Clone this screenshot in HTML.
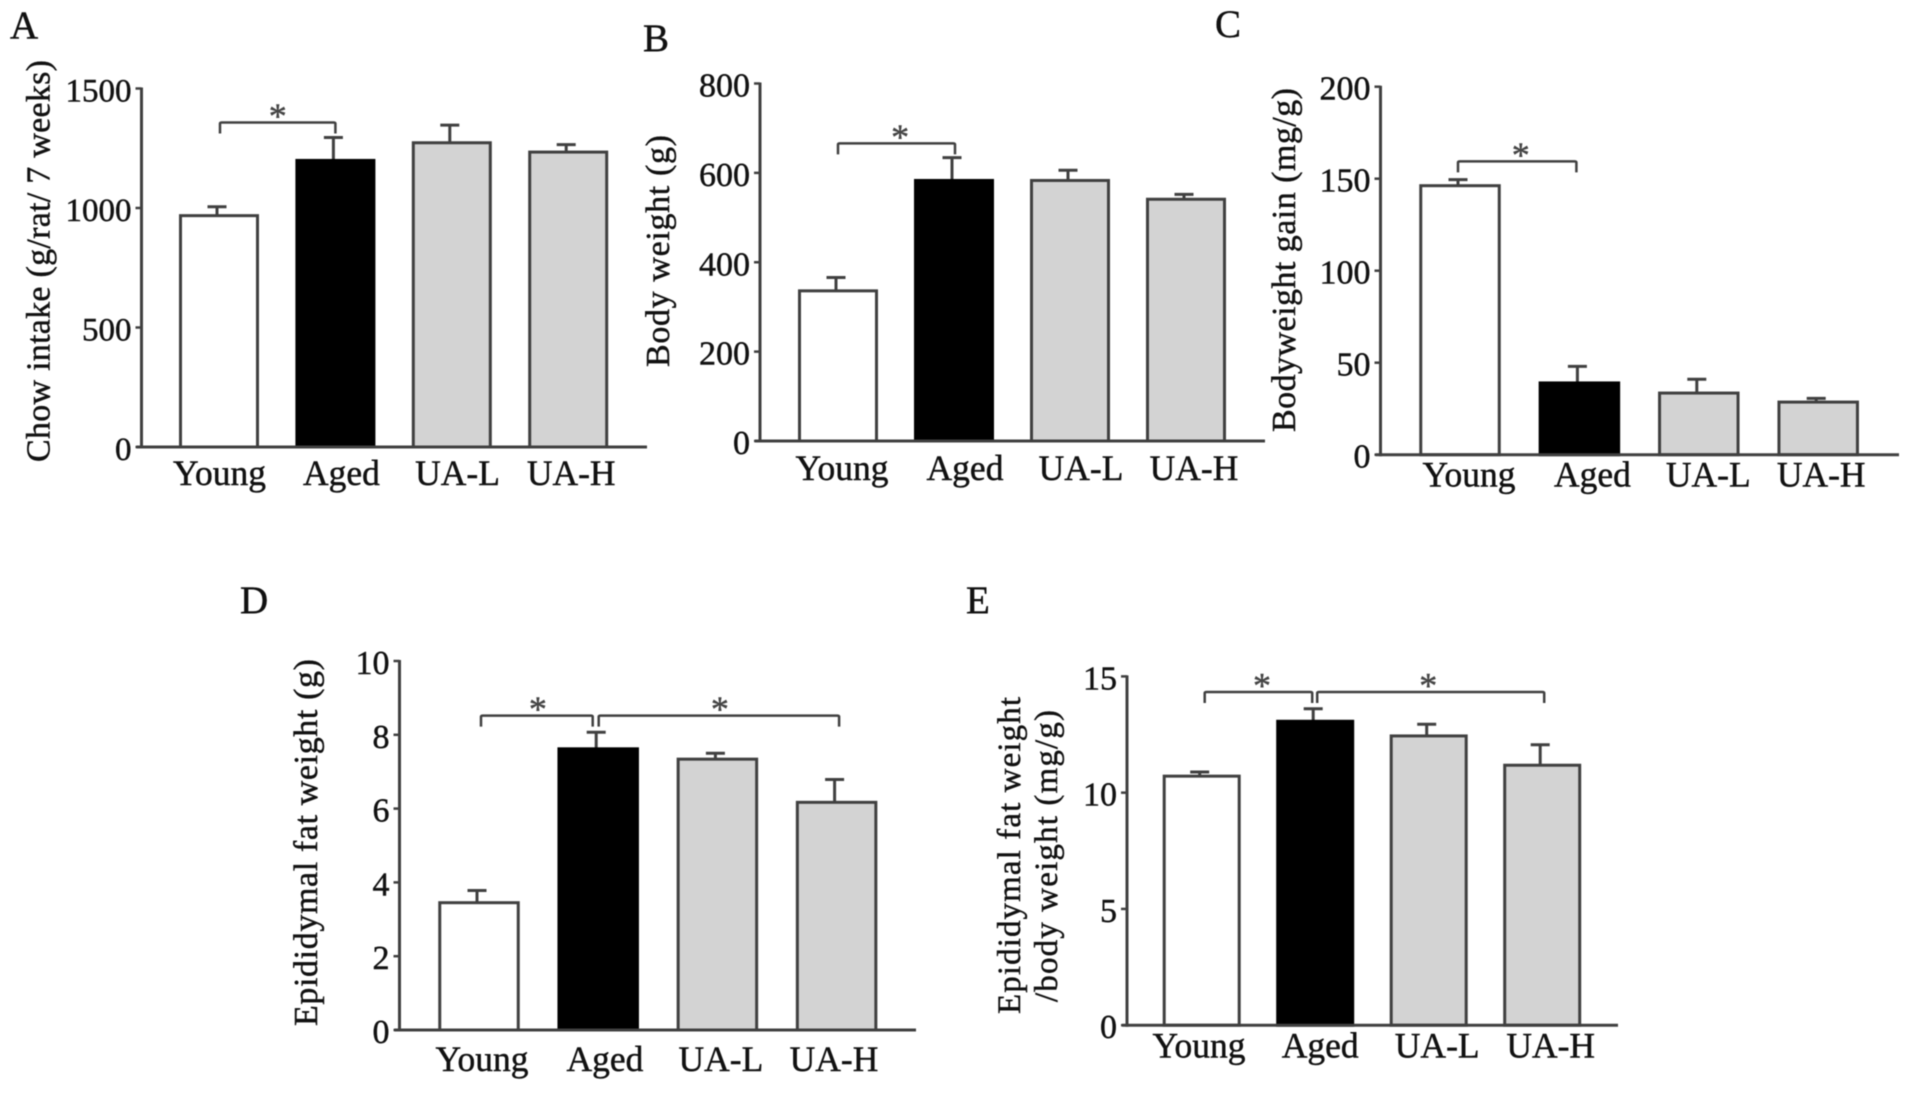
<!DOCTYPE html>
<html lang="en">
<head>
<meta charset="utf-8">
<title>Urolithin bar chart panels</title>
<style>
  html, body { margin: 0; padding: 0; background: #fff; }
  #figure { display: block; filter: blur(0.6px); }
  text { font-family: "Liberation Serif", serif; fill: #111; stroke: #111; stroke-width: 0.45px; }
</style>
</head>
<body>
<svg id="figure" xmlns="http://www.w3.org/2000/svg" width="1913" height="1098" viewBox="0 0 1913 1098">
  <rect width="1913" height="1098" fill="#fff"/>
  <text x="10" y="38" font-size="39">A</text>
  <text x="643" y="51" font-size="39">B</text>
  <text x="1215" y="37" font-size="39">C</text>
  <text x="240" y="613" font-size="39">D</text>
  <text x="966" y="613" font-size="39">E</text>

  <text transform="translate(49.5,462) rotate(-90)" font-size="34" textLength="402" lengthAdjust="spacing">Chow intake (g/rat/ 7 weeks)</text>
  <text transform="translate(669,367) rotate(-90)" font-size="34" textLength="232" lengthAdjust="spacing">Body weight (g)</text>
  <text transform="translate(1295,432) rotate(-90)" font-size="34" textLength="344" lengthAdjust="spacing">Bodyweight gain (mg/g)</text>
  <text transform="translate(317,1026) rotate(-90)" font-size="34" textLength="367" lengthAdjust="spacing">Epididymal fat weight (g)</text>
  <text transform="translate(1020,1014) rotate(-90)" font-size="33" textLength="317" lengthAdjust="spacing">Epididymal fat weight</text>
  <text transform="translate(1057,1002) rotate(-90)" font-size="33" textLength="292" lengthAdjust="spacing">/body weight (mg/g)</text>
  <g id="plots"></g>
</svg>
<script>
// ---- Data ----
const categories = ["Young", "Aged", "UA-L", "UA-H"];

const chowMeans = [968, 1199, 1273, 1234];
const chowErrors = [37, 96, 74, 31];
const chowTicks = [0, 500, 1000, 1500];
const chowMax = 1500;

const bodyMeans = [336, 583, 583, 541];
const bodyErrors = [30, 51, 23, 11];
const bodyTicks = [0, 200, 400, 600, 800];
const bodyMax = 800;

const gainMeans = [146.2, 39, 33.5, 28.6];
const gainErrors = [3.3, 9, 7.5, 2];
const gainTicks = [0, 50, 100, 150, 200];
const gainMax = 200;

const fatMeans = [3.45, 7.62, 7.34, 6.17];
const fatErrors = [0.33, 0.45, 0.16, 0.62];
const fatTicks = [0, 2, 4, 6, 8, 10];
const fatMax = 10;

const ratioMeans = [10.71, 13.07, 12.44, 11.18];
const ratioErrors = [0.18, 0.54, 0.5, 0.88];
const ratioTicks = [0, 5, 10, 15];
const ratioMax = 15;

// Significance brackets: group indices and the value level they sit at
const chowBrackets = [{ from: 0, to: 1, level: 1358 }];
const bodyBrackets = [{ from: 0, to: 1, level: 666 }];
const gainBrackets = [{ from: 0, to: 1, level: 159.4 }];
const fatBrackets = [{ from: 0, to: 1, level: 8.52 }, { from: 1, to: 3, level: 8.52 }];
const ratioBrackets = [{ from: 0, to: 1, level: 14.33 }, { from: 1, to: 3, level: 14.33 }];

// ---- Layout ----
const INK = "#404040";
const STAR_INK = "#454545";
const FILLS = ["#ffffff", "#000000", "#d3d3d3", "#d3d3d3"];
const panels = [
  { id: "a", means: chowMeans, errors: chowErrors, ticks: chowTicks, max: chowMax, brackets: chowBrackets,
    axisX: 141.5, top: 88.5, zero: 447, right: 647, first: 219, step: 116.4, width: 80,
    labelShift: [0.5, 6, 5.7, 3], labelY: 485, tickSize: 33, bracketShift: [[1, 0]], starShift: [0] },
  { id: "b", means: bodyMeans, errors: bodyErrors, ticks: bodyTicks, max: bodyMax, brackets: bodyBrackets,
    axisX: 760, top: 83.5, zero: 441, right: 1265, first: 838, step: 116, width: 80,
    labelShift: [4, 11, 11, 8], labelY: 480, tickSize: 34, bracketShift: [[0, 1]], starShift: [3.6] },
  { id: "c", means: gainMeans, errors: gainErrors, ticks: gainTicks, max: gainMax, brackets: gainBrackets,
    axisX: 1380.5, top: 86.7, zero: 454.7, right: 1899, first: 1460, step: 119.4, width: 81.5,
    labelShift: [9, 13, 9.5, 3], labelY: 486.5, tickSize: 34, bracketShift: [[-2, -3]], starShift: [3.6] },
  { id: "d", means: fatMeans, errors: fatErrors, ticks: fatTicks, max: fatMax, brackets: fatBrackets,
    axisX: 399.5, top: 661, zero: 1030, right: 916, first: 479, step: 119.2, width: 81.5,
    labelShift: [3, 6.7, 3.5, -2.6], labelY: 1071, tickSize: 34, bracketShift: [[2, -5.5], [0.5, 2.5]], starShift: [1, 1] },
  { id: "e", means: ratioMeans, errors: ratioErrors, ticks: ratioTicks, max: ratioMax, brackets: ratioBrackets,
    axisX: 1127, top: 676.4, zero: 1025.2, right: 1618, first: 1201.7, step: 113.5, width: 78,
    labelShift: [-2.7, 5, 8.5, 8.5], labelY: 1057.5, tickSize: 34, bracketShift: [[3, -3], [2, 2]], starShift: [3.6, -2.4] }
];

const SVG_NS = "http://www.w3.org/2000/svg";
const plots = document.getElementById("plots");

function line(parent, x1, y1, x2, y2, w) {
  const el = document.createElementNS(SVG_NS, "line");
  el.setAttribute("x1", x1);
  el.setAttribute("y1", y1);
  el.setAttribute("x2", x2);
  el.setAttribute("y2", y2);
  el.setAttribute("stroke", INK);
  el.setAttribute("stroke-width", w);
  parent.appendChild(el);
  return el;
}

function label(parent, x, y, size, anchor, content) {
  const el = document.createElementNS(SVG_NS, "text");
  el.setAttribute("x", x);
  el.setAttribute("y", y);
  el.setAttribute("font-size", size);
  el.setAttribute("text-anchor", anchor);
  el.textContent = content;
  parent.appendChild(el);
  return el;
}

panels.forEach(function (p) {
  const yScale = function (v) { return p.zero - (v / p.max) * (p.zero - p.top); };
  const xScale = function (i) { return p.first + i * p.step; };

  const g = document.createElementNS(SVG_NS, "g");
  
  
  plots.appendChild(g);

  // Error bars sit behind the bars
  p.means.forEach(function (m, i) {
    const cx = xScale(i) - 2;
    const eg = document.createElementNS(SVG_NS, "g");
    
    
    g.appendChild(eg);
    const yTop = yScale(m + p.errors[i]);
    line(eg, cx, yScale(m), cx, yTop, 3);
    line(eg, cx - 9.5, yTop, cx + 9.5, yTop, 3);
  });

  // Bars
  p.means.forEach(function (m, i) {
    const rect = document.createElementNS(SVG_NS, "rect");
    
    
    rect.setAttribute("x", xScale(i) - p.width / 2 + 1.5);
    rect.setAttribute("y", yScale(m));
    rect.setAttribute("width", p.width - 3);
    rect.setAttribute("height", p.zero - yScale(m));
    rect.setAttribute("fill", FILLS[i]);
    rect.setAttribute("stroke", i === 1 ? "#000000" : INK);
    rect.setAttribute("stroke-width", 3);
    g.appendChild(rect);
  });

  // Axes
  const yAxis = line(g, p.axisX, p.top - 1, p.axisX, p.zero + 1.5, 3);
  
  
  const xAxis = line(g, p.axisX - 5, p.zero, p.right, p.zero, 3);
  
  

  // Ticks
  p.ticks.forEach(function (t) {
    const y = yScale(t);
    const tick = line(g, p.axisX - 6, y, p.axisX, y, 2.5);
    
    
    const lab = label(g, p.axisX - 10, y + 13, p.tickSize, "end", String(t));
    
    
  });

  // Category labels
  categories.forEach(function (c, i) {
    const lab = label(g, xScale(i) + p.labelShift[i], p.labelY, 35.5, "middle", c);
    
    
  });

  // Significance brackets
  p.brackets.forEach(function (b, k) {
    const x1 = xScale(b.from) + p.bracketShift[k][0];
    const x2 = xScale(b.to) + p.bracketShift[k][1];
    const y = yScale(b.level);
    const path = document.createElementNS(SVG_NS, "path");
    
    
    path.setAttribute("d", "M" + x1 + " " + (y + 11) + "V" + (y + 1) + "Q" + x1 + " " + y + " " + (x1 + 2) + " " + y +
      "H" + (x2 - 2) + "Q" + x2 + " " + y + " " + x2 + " " + (y + 1) + "V" + (y + 11));
    path.setAttribute("fill", "none");
    path.setAttribute("stroke", INK);
    path.setAttribute("stroke-width", 2.5);
    g.appendChild(path);
    const star = label(g, (x1 + x2) / 2 + p.starShift[k], y + 5.5, 36, "middle", "*");
    star.setAttribute("style", "fill:" + STAR_INK + ";stroke:" + STAR_INK);
    
    
  });
});
</script>
</body>
</html>
